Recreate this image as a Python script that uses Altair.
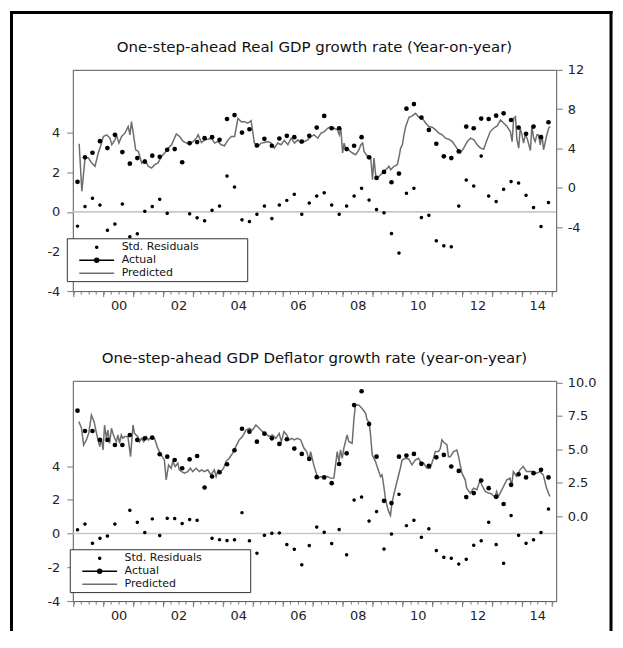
import altair as alt
import pandas as pd

FONT = "DejaVu Sans"

# quarter mid-points 1999Q1 .. 2014Q4
quarters = [1999 + 0.25 * i + 0.125 for i in range(64)]
years = list(range(1999, 2016))

gdp_resid = [-0.72, 0.27, 0.69, 0.35, -0.93, -0.61, 0.40, -1.26, -1.11, 0.03,
             0.27, 0.64, -0.07, -1.6, -2.0, -0.1, -0.3, -0.45, 0.08, 0.3,
             1.81, 1.26, -0.4, -0.49, -0.12, 0.3, -0.34, 0.35, 0.58, 0.89,
             -0.12, 0.45, 0.8, 0.97, 0.35, -0.12, 0.30, 0.80, 1.19, 0.6,
             0.12, -0.04, -1.09, -2.08, 0.94, 1.19, -0.29, -0.17, -1.46, -1.71,
             -1.76, 0.30, 1.61, 1.31, 2.82, 0.8, 0.52, 1.14, 1.53, 1.46,
             0.84, 0.22, -0.74, 0.47]
gdp_actual = [0.61, 3.10, 3.57, 4.75, 4.04, 5.39, 3.64, 2.46, 3.03, 2.66,
              3.27, 3.16, 3.87, 3.94, 2.6, 4.55, 4.65, 5.05, 5.15, 4.88,
              7.0, 7.4, 5.62, 5.96, 4.31, 4.98, 4.28, 5.02, 5.29, 5.15,
              4.71, 5.29, 6.13, 7.31, 6.06, 6.06, 3.94, 4.28, 5.15, 3.10,
              1.01, 1.62, 0.57, 1.45, 8.05, 8.52, 7.14, 5.89, 4.48, 3.20,
              3.03, 3.70, 6.23, 6.06, 7.04, 7.0, 7.34, 7.58, 6.9, 6.13,
              5.49, 6.23, 5.15, 6.67]
gdp_pred = [(1999.18, 4.48), (1999.27, -0.34), (1999.38, 3.10), (1999.49, 3.03), (1999.60, 2.53),
            (1999.71, 2.19), (1999.82, 3.54), (1999.91, 4.38), (1999.99, 5.22), (2000.10, 5.39),
            (2000.21, 5.05), (2000.27, 4.38), (2000.38, 4.88), (2000.43, 5.39), (2000.51, 4.55),
            (2000.60, 5.22), (2000.71, 5.56), (2000.82, 6.23), (2000.88, 5.39), (2000.93, 6.73),
            (2000.99, 5.56), (2001.07, 3.87), (2001.16, 3.70), (2001.27, 2.53), (2001.38, 2.86),
            (2001.49, 2.19), (2001.60, 2.02), (2001.71, 2.36), (2001.82, 2.53), (2001.93, 3.20),
            (2002.04, 3.54), (2002.16, 4.04), (2002.27, 4.38), (2002.43, 5.49), (2002.54, 5.22),
            (2002.66, 4.71), (2002.77, 4.55), (2002.88, 4.38), (2002.99, 4.71), (2003.10, 5.05),
            (2003.16, 5.39), (2003.27, 4.61), (2003.38, 4.88), (2003.49, 4.95), (2003.60, 5.05),
            (2003.71, 4.55), (2003.82, 4.71), (2003.93, 4.38), (2004.04, 4.28), (2004.16, 4.88),
            (2004.27, 5.22), (2004.38, 5.22), (2004.49, 7.07), (2004.60, 6.73), (2004.71, 6.73),
            (2004.82, 6.57), (2004.93, 6.84), (2005.04, 4.55), (2005.16, 4.21), (2005.27, 4.55),
            (2005.38, 4.61), (2005.49, 4.71), (2005.60, 4.55), (2005.71, 4.04), (2005.82, 4.55),
            (2005.93, 4.38), (2006.04, 4.81), (2006.16, 4.38), (2006.27, 5.05), (2006.38, 4.55),
            (2006.49, 4.88), (2006.60, 4.55), (2006.71, 4.71), (2006.82, 4.88), (2006.93, 5.22),
            (2007.04, 5.39), (2007.16, 5.05), (2007.27, 5.56), (2007.38, 5.72), (2007.49, 6.06),
            (2007.60, 6.23), (2007.71, 6.06), (2007.82, 5.89), (2007.88, 5.39), (2007.93, 6.06),
            (2007.99, 3.54), (2008.04, 4.55), (2008.10, 3.87), (2008.16, 4.04), (2008.21, 3.80),
            (2008.32, 3.54), (2008.43, 3.37), (2008.54, 3.87), (2008.60, 4.38), (2008.66, 4.55),
            (2008.71, 3.70), (2008.82, 3.20), (2008.88, 3.03), (2008.93, 3.13), (2008.99, 0.84),
            (2009.04, 3.03), (2009.10, 1.18), (2009.16, 1.01), (2009.27, 1.35), (2009.38, 1.68),
            (2009.49, 2.02), (2009.54, 2.19), (2009.60, 1.85), (2009.71, 2.19), (2009.82, 2.36),
            (2009.88, 3.20), (2009.93, 4.04), (2009.99, 4.38), (2010.04, 5.39), (2010.10, 6.23),
            (2010.21, 7.17), (2010.32, 7.31), (2010.43, 7.58), (2010.54, 7.17), (2010.66, 7.07),
            (2010.77, 6.57), (2010.88, 6.23), (2010.99, 6.16), (2011.10, 5.89), (2011.21, 5.56),
            (2011.32, 5.39), (2011.43, 5.05), (2011.54, 4.95), (2011.66, 4.71), (2011.77, 4.21),
            (2011.88, 3.70), (2011.93, 3.54), (2012.04, 4.04), (2012.16, 4.71), (2012.27, 5.05),
            (2012.38, 4.88), (2012.49, 4.38), (2012.60, 4.04), (2012.71, 3.94), (2012.82, 4.88),
            (2012.93, 5.72), (2013.04, 6.06), (2013.16, 6.30), (2013.27, 6.90), (2013.38, 6.57),
            (2013.49, 6.23), (2013.60, 5.72), (2013.66, 4.71), (2013.71, 7.07), (2013.77, 7.24),
            (2013.82, 4.88), (2013.88, 4.04), (2013.93, 6.06), (2013.99, 5.39), (2014.04, 4.55),
            (2014.10, 5.39), (2014.16, 5.05), (2014.27, 3.80), (2014.32, 6.23), (2014.38, 5.05),
            (2014.43, 4.71), (2014.49, 5.39), (2014.54, 5.39), (2014.60, 4.38), (2014.66, 5.39),
            (2014.71, 3.87), (2014.82, 5.39), (2014.88, 6.06), (2014.93, 6.23)]

defl_resid = [0.22, 0.57, -0.57, -0.28, -0.14, 0.57, -1.5, 1.38, 0.67, 0.06,
              0.87, -0.12, 0.91, 0.89, 0.59, 0.83, 0.79, -2.2, -0.28, -0.36,
              -0.41, -0.37, 1.24, -0.43, -1.16, -0.1, 0.02, 0.04, -0.65, -0.93,
              -1.85, -0.71, 0.39, 0.08, -0.59, 0.24, -1.26, 1.99, 2.17, 0.75,
              1.30, -0.91, -0.02, 2.33, 0.47, 0.79, -0.22, 0.28, -1.01, -1.40,
              -1.46, -1.81, -1.52, -0.69, -0.43, 0.67, -0.65, -1.76, 1.07, -0.10,
              -0.57, -0.37, 0.06, 1.46]
defl_actual = [7.89, 6.37, 6.37, 5.70, 5.70, 5.32, 5.32, 6.07, 5.70, 5.82,
               5.87, 4.63, 4.45, 4.20, 3.58, 4.25, 4.50, 2.14, 2.96, 3.28,
               3.88, 4.93, 6.54, 6.32, 5.57, 6.17, 5.82, 5.40, 5.75, 5.05,
               4.65, 4.28, 2.91, 2.89, 2.46, 3.9, 4.70, 8.31, 9.35, 6.89,
               4.45, 1.14, 0.97, 4.45, 4.53, 4.65, 3.91, 3.76, 4.40, 4.58,
               3.71, 3.38, 1.42, 1.72, 2.66, 2.09, 1.44, 0.9, 2.34, 3.13,
               2.89, 3.21, 3.46, 2.89]
defl_pred = [(1999.17, 7.07), (1999.26, 6.57), (1999.33, 5.32), (1999.42, 5.70), (1999.50, 6.19),
             (1999.59, 7.56), (1999.68, 7.07), (1999.76, 6.19), (1999.81, 5.70), (1999.87, 5.20),
             (1999.92, 5.82), (1999.98, 4.95), (2000.03, 6.82), (2000.09, 5.82), (2000.14, 6.44),
             (2000.20, 5.45), (2000.26, 6.57), (2000.31, 6.19), (2000.37, 5.82), (2000.42, 5.57),
             (2000.48, 6.07), (2000.53, 5.45), (2000.59, 6.07), (2000.64, 5.82), (2000.70, 5.95),
             (2000.81, 5.95), (2000.90, 4.45), (2000.98, 6.82), (2001.03, 6.19), (2001.14, 5.95),
             (2001.20, 5.57), (2001.26, 5.82), (2001.34, 5.57), (2001.42, 5.95), (2001.50, 5.70),
             (2001.59, 5.95), (2001.70, 5.82), (2001.81, 5.07), (2001.92, 4.58), (2002.03, 4.20),
             (2002.09, 2.71), (2002.17, 3.83), (2002.26, 3.58), (2002.31, 4.08), (2002.39, 3.71),
             (2002.48, 3.96), (2002.53, 3.46), (2002.61, 3.33), (2002.70, 3.21), (2002.81, 3.33),
             (2002.90, 3.58), (2002.98, 3.33), (2003.09, 3.58), (2003.20, 3.33), (2003.28, 3.46),
             (2003.37, 3.33), (2003.48, 3.46), (2003.59, 3.08), (2003.70, 3.46), (2003.76, 2.96),
             (2003.83, 3.46), (2003.92, 3.33), (2004.01, 3.58), (2004.09, 4.08), (2004.20, 4.33),
             (2004.31, 4.70), (2004.42, 5.20), (2004.53, 5.70), (2004.64, 5.95), (2004.76, 6.44),
             (2004.87, 6.57), (2004.98, 6.44), (2005.09, 6.82), (2005.20, 6.57), (2005.31, 6.32),
             (2005.42, 6.19), (2005.53, 5.95), (2005.64, 6.07), (2005.76, 5.82), (2005.87, 6.19),
             (2005.94, 5.57), (2006.03, 6.32), (2006.12, 6.07), (2006.20, 5.70), (2006.29, 5.82),
             (2006.37, 5.70), (2006.48, 5.82), (2006.59, 5.70), (2006.70, 5.07), (2006.79, 4.83),
             (2006.87, 4.20), (2006.92, 4.83), (2007.01, 3.96), (2007.09, 3.33), (2007.17, 2.84),
             (2007.26, 2.96), (2007.37, 2.89), (2007.48, 2.96), (2007.59, 2.84), (2007.70, 2.84),
             (2007.81, 4.83), (2007.87, 4.08), (2007.92, 4.95), (2007.98, 4.33), (2008.03, 5.07),
             (2008.14, 6.07), (2008.20, 5.57), (2008.31, 5.45), (2008.37, 7.31), (2008.42, 8.31),
             (2008.53, 8.31), (2008.64, 8.06), (2008.76, 7.69), (2008.81, 7.19), (2008.87, 7.07),
             (2008.92, 6.19), (2008.98, 4.58), (2009.09, 4.08), (2009.20, 3.33), (2009.26, 2.96),
             (2009.31, 3.08), (2009.37, 2.21), (2009.42, 1.34), (2009.48, 0.72), (2009.53, 0.35),
             (2009.59, 0.05), (2009.64, 0.97), (2009.70, 1.59), (2009.81, 2.59), (2009.92, 3.58),
             (2009.98, 4.20), (2010.09, 4.33), (2010.20, 4.28), (2010.31, 3.83), (2010.42, 4.20),
             (2010.53, 4.33), (2010.59, 4.08), (2010.70, 3.96), (2010.81, 3.58), (2010.92, 3.58),
             (2011.03, 4.33), (2011.09, 4.83), (2011.20, 4.83), (2011.26, 5.07), (2011.31, 5.70),
             (2011.37, 5.52), (2011.48, 5.32), (2011.53, 4.45), (2011.59, 4.45), (2011.70, 4.83),
             (2011.81, 4.95), (2011.87, 4.45), (2011.98, 3.21), (2012.09, 2.71), (2012.14, 2.09),
             (2012.26, 1.72), (2012.37, 2.09), (2012.48, 1.97), (2012.59, 2.71), (2012.64, 2.34),
             (2012.76, 1.84), (2012.87, 1.72), (2012.98, 1.64), (2013.09, 1.39), (2013.14, 1.84),
             (2013.20, 1.47), (2013.26, 1.72), (2013.37, 2.21), (2013.48, 2.71), (2013.59, 2.84),
             (2013.64, 2.21), (2013.70, 3.33), (2013.81, 2.96), (2013.92, 3.46), (2014.03, 3.71),
             (2014.14, 3.33), (2014.26, 3.33), (2014.37, 3.33), (2014.48, 3.21), (2014.59, 3.33),
             (2014.70, 3.08), (2014.81, 2.09), (2014.92, 1.47)]

series_names = ["Std. Residuals", "Actual", "Predicted"]
series_colors = ["#000000", "#000000", "#6e6e6e"]
series_shapes = [
    "M0.2,0A0.2,0.2 0 1,1 -0.2,0A0.2,0.2 0 1,1 0.2,0Z",
    "M-3.5,0H3.5M0.4,0A0.4,0.4 0 1,1 -0.4,0A0.4,0.4 0 1,1 0.4,0Z",
    "M-3.5,0H3.5",
]

titles = ["One-step-ahead Real GDP growth rate (Year-on-year)",
          "One-step-ahead GDP Deflator growth rate (year-on-year)"]

x_ticks = [1999 + 0.25 * k for k in range(65)]
X_DOMAIN = [1998.967, 2015.133]
W = 485

LABEL_EXPR = ("abs((datum.value % 2) - 0.5) < 0.01 ? "
              "slice('0' + toString(floor(datum.value) % 100), -2) : ''")


def x_enc():
    return alt.X(
        "t:Q",
        scale=alt.Scale(domain=X_DOMAIN, nice=False, zero=False),
        axis=alt.Axis(values=x_ticks, labelExpr=LABEL_EXPR, grid=False, domain=False,
                      tickColor="#777", tickSize=3, labelFont=FONT, labelFontSize=13,
                      labelColor="#222", labelPadding=5, labelOverlap=False, labelFlush=False),
        title=None,
    )


def panel(title, title_offset, resid, actual, pred, left_dom, right_dom, right_vals,
          right_expr, height, legend_x, legend_y):
    q = pd.DataFrame({"t": quarters, "resid": resid, "actual": actual,
                      "series": "Std. Residuals"})
    p = pd.DataFrame(pred, columns=["t", "pred"])
    yr = pd.DataFrame({"t": years})

    left_scale = alt.Scale(domain=left_dom, nice=False, zero=False)
    left_axis = alt.Axis(values=[-4, -2, 0, 2, 4], orient="left", grid=False, domain=False,
                         tickColor="#777", tickSize=6, labelPadding=7, labelFont=FONT,
                         labelFontSize=13, labelColor="#222", labelExpr="toString(datum.value)")
    right_scale = alt.Scale(domain=right_dom, nice=False, zero=False)
    right_axis = alt.Axis(values=right_vals, orient="right", grid=False, domain=False,
                          tickColor="#777", tickSize=6, labelPadding=5, labelFont=FONT,
                          labelFontSize=13, labelColor="#222", labelExpr=right_expr)

    # an invisible (white) title on the right widens the legend box like the reference
    legend = alt.Legend(
        title="MMMM", titleOrient="right", titleColor="white", titleFontSize=11,
        titlePadding=2, titleFont=FONT,
        orient="none", legendX=legend_x, legendY=legend_y, direction="vertical",
        fillColor="white", strokeColor="#333", padding=3, symbolSize=100,
        symbolOffset=21, labelOffset=19, labelFont=FONT, labelFontSize=11,
        labelColor="#111", rowPadding=2, labelLimit=400, symbolStrokeWidth=1.5,
    )
    color_scale = alt.Scale(domain=series_names, range=series_colors)
    shape_scale = alt.Scale(domain=series_names, range=series_shapes)

    zero = alt.Chart(alt.Data(values=[{}])).mark_rule(color="#c8c8c8", strokeWidth=1.6).encode(
        y=alt.YDatum(0, scale=left_scale, axis=left_axis, title=None))
    res = alt.Chart(q).mark_point(filled=False, fill="#000000", size=100, opacity=1,
                                  strokeWidth=1.5).encode(
        x=x_enc(),
        y=alt.Y("resid:Q", scale=left_scale, axis=left_axis, title=None),
        color=alt.Color("series:N", scale=color_scale, legend=legend),
        shape=alt.Shape("series:N", scale=shape_scale, legend=legend),
    )
    left = alt.layer(zero, res)

    line = alt.Chart(p).mark_line(color="#6e6e6e", strokeWidth=1.5).encode(
        x=x_enc(),
        y=alt.Y("pred:Q", scale=right_scale, axis=right_axis, title=None),
    )
    dots = alt.Chart(q).mark_circle(color="#000000", size=22, opacity=1).encode(
        x=x_enc(),
        y=alt.Y("actual:Q", scale=right_scale, axis=right_axis, title=None),
    )
    # longer tick at each year boundary, placed through the x scale
    yticks = alt.Chart(yr).mark_rule(color="#777", strokeWidth=1).encode(
        x=x_enc(), y=alt.value(height), y2=alt.value(height + 6))
    right = alt.layer(line, dots, yticks)

    return alt.layer(left, right).resolve_scale(y="independent").properties(
        width=W, height=height,
        title=alt.TitleParams(text=title, font=FONT, fontSize=15, fontWeight="normal",
                              color="#111", anchor="middle", frame="group",
                              offset=title_offset),
    )


top = panel(titles[0], 9, gdp_resid, gdp_actual, gdp_pred, [-4, 7.17], [-10.5, 12],
            [-4, 0, 4, 8, 12], "toString(datum.value)", 222, -6, 169)
bottom = panel(titles[1], 11, defl_resid, defl_actual, defl_pred, [-4, 9.05], [-6.37, 10.13],
               [0, 2.5, 5, 7.5, 10], "format(datum.value, '.1f')", 221, -3, 169)

panels = alt.vconcat(top, bottom, spacing=90, bounds="flush").resolve_scale(
    color="independent", shape="independent")

# outer page frame (left, top, right edges)
one = alt.Data(values=[{}])
f_left = alt.Chart(one).mark_rule(color="black", strokeWidth=3).encode(
    x=alt.value(-61.5), y=alt.value(-58), y2=alt.value(564))
f_top = alt.Chart(one).mark_rule(color="black", strokeWidth=3).encode(
    x=alt.value(-63), x2=alt.value(541.5), y=alt.value(-56.5))
f_right = alt.Chart(one).mark_rule(color="black", strokeWidth=3).encode(
    x=alt.value(540), y=alt.value(-58), y2=alt.value(564))
frame = alt.layer(f_left, f_top, f_right).properties(
    width=W, height=1, view=alt.ViewBackground(stroke="transparent"))

chart = alt.vconcat(frame, panels, spacing=0, bounds="flush").resolve_scale(
    color="independent", shape="independent"
).properties(padding=0, background="white").configure_view(stroke="#555", strokeWidth=1)

chart.save("out.html", embed_options={"renderer": "svg", "actions": False})
